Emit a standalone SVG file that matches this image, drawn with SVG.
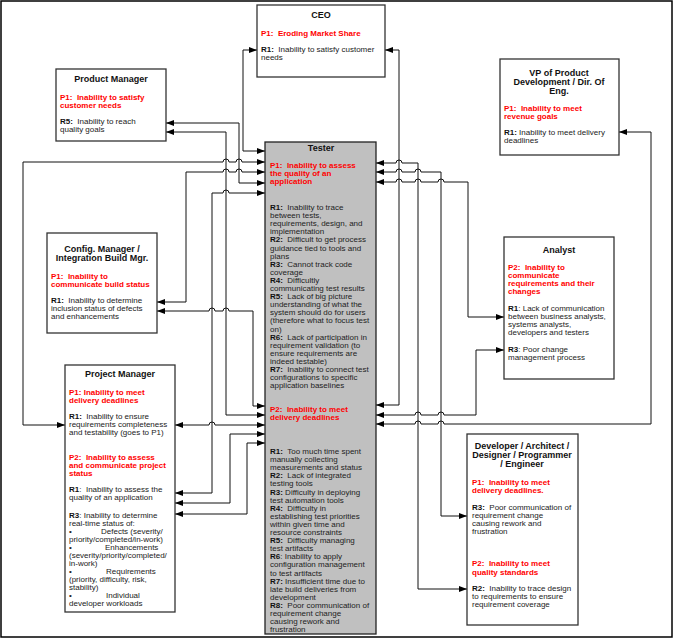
<svg xmlns="http://www.w3.org/2000/svg" width="674" height="640" viewBox="0 0 674 640">
<style>
.t{font-family:"Liberation Sans",Arial,sans-serif;font-size:8px;fill:#222;white-space:pre}
.b{font-weight:bold;fill:#111}
.r{font-weight:bold;fill:#ff0000}
.h{font-family:"Liberation Sans",Arial,sans-serif;font-size:9px;font-weight:bold;text-anchor:middle;fill:#111}
.box{fill:#fff;stroke:#333;stroke-width:1.3}
.tester{fill:#c0c0c0;stroke:#222;stroke-width:1.3}
.c{fill:none;stroke:#111;stroke-width:1;marker-start:url(#ah);marker-end:url(#ah)}
</style>
<defs>
<marker id="ah" viewBox="0 0 8 6" refX="8" refY="3" markerWidth="8" markerHeight="6" markerUnits="userSpaceOnUse" orient="auto-start-reverse">
<path d="M0,0 L8,3 L0,6 z" fill="#000"/>
</marker>
</defs>
<rect x="1" y="1" width="671" height="636" fill="#fff" stroke="#000" stroke-width="1.5"/>

<g id="connectors">
<path class="c" d="M265,151 H243 V50 H257"/>
<path class="c" d="M376,405 H399 V50 H385"/>
<path class="c" d="M166,123 H239 V183 H265"/>
<path class="c" d="M166,132 H226 V415 H265"/>
<path class="c" d="M65,425 H23 V162 H223 a3,3 0 0 1 6,0 H236 a3,3 0 0 1 6,0 H265"/>
<path class="c" d="M157,302 H186 V172 H223 a3,3 0 0 1 6,0 H236 a3,3 0 0 1 6,0 H265"/>
<path class="c" d="M157,311 H209 a3,3 0 0 1 6,0 H223 a3,3 0 0 1 6,0 H253 V406 H265"/>
<path class="c" d="M175,425 H209 a3,3 0 0 1 6,0 H265"/>
<path class="c" d="M175,493 H212 V193 H223 a3,3 0 0 1 6,0 H265"/>
<path class="c" d="M175,503 H230 V434 H265"/>
<path class="c" d="M175,514 H247 V443 H265"/>
<path class="c" d="M376,163 H396 a3,3 0 0 1 6,0 H418 V589 H467"/>
<path class="c" d="M376,172 H396 a3,3 0 0 1 6,0 H415 a3,3 0 0 1 6,0 H441 V516 H467"/>
<path class="c" d="M376,182 H396 a3,3 0 0 1 6,0 H415 a3,3 0 0 1 6,0 H438 a3,3 0 0 1 6,0 H468 V317 H504"/>
<path class="c" d="M376,415 H415 a3,3 0 0 1 6,0 H438 a3,3 0 0 1 6,0 H476 V350 H504"/>
<path class="c" d="M376,424 H415 a3,3 0 0 1 6,0 H438 a3,3 0 0 1 6,0 H651 V132 H619"/>
</g>

<g id="ceo">
<rect class="box" x="257" y="5" width="128" height="72"/>
<text class="h" x="321" y="18">CEO</text>
<text class="t r" x="261" y="36">P1:  Eroding Market Share</text>
<text class="t" x="261" y="52"><tspan class="b">R1:</tspan>  Inability to satisfy customer</text>
<text class="t" x="261" y="60">needs</text>
</g>

<g id="product-manager">
<rect class="box" x="56" y="69" width="110" height="72"/>
<text class="h" x="111" y="82">Product Manager</text>
<text class="t r" x="60" y="100">P1:  Inability to satisfy</text>
<text class="t r" x="60" y="108">customer needs</text>
<text class="t" x="60" y="124"><tspan class="b">R5:</tspan>  Inability to reach</text>
<text class="t" x="60" y="132">quality goals</text>
</g>

<g id="vp">
<rect class="box" x="500" y="59" width="119" height="96"/>
<text class="h" x="559" y="76">VP of Product</text>
<text class="h" x="559" y="85">Development / Dir. Of</text>
<text class="h" x="559" y="94">Eng.</text>
<text class="t r" x="504" y="111">P1:  Inability to meet</text>
<text class="t r" x="504" y="119">revenue goals</text>
<text class="t" x="504" y="135"><tspan class="b">R1:</tspan> Inability to meet delivery</text>
<text class="t" x="504" y="143">deadlines</text>
</g>

<g id="config-manager">
<rect class="box" x="47" y="233" width="110" height="100"/>
<text class="h" x="102" y="252">Config. Manager /</text>
<text class="h" x="102" y="261">Integration Build Mgr.</text>
<text class="t r" x="51" y="279">P1:  Inability to</text>
<text class="t r" x="51" y="287">communicate build status</text>
<text class="t" x="51" y="303"><tspan class="b">R1:</tspan>  Inability to determine</text>
<text class="t" x="51" y="311">inclusion status of defects</text>
<text class="t" x="51" y="319">and enhancements</text>
</g>

<g id="project-manager">
<rect class="box" x="65" y="365" width="110" height="247"/>
<text class="h" x="120" y="377">Project Manager</text>
<text class="t r" x="69" y="395">P1: Inability to meet</text>
<text class="t r" x="69" y="403">delivery deadlines</text>
<text class="t" x="69" y="419"><tspan class="b">R1:</tspan>  Inability to ensure</text>
<text class="t" x="69" y="427">requirements completeness</text>
<text class="t" x="69" y="435">and testability (goes to P1)</text>
<text class="t r" x="69" y="460">P2:  Inability to assess</text>
<text class="t r" x="69" y="468">and communicate project</text>
<text class="t r" x="69" y="476">status</text>
<text class="t" x="69" y="492"><tspan class="b">R1</tspan>:  Inability to assess the</text>
<text class="t" x="69" y="500">quality of an application</text>
<text class="t" x="69" y="518"><tspan class="b">R3</tspan>: Inability to determine</text>
<text class="t" x="69" y="526">real-time status of:</text>
<text class="t" x="69" y="534">•</text><text class="t" x="101" y="534">Defects (severity/</text>
<text class="t" x="69" y="542">priority/completed/in-work)</text>
<text class="t" x="69" y="550">•</text><text class="t" x="105" y="550">Enhancements</text>
<text class="t" x="69" y="558">(severity/priority/completed/</text>
<text class="t" x="69" y="566">in-work)</text>
<text class="t" x="69" y="574">•</text><text class="t" x="106" y="574">Requirements</text>
<text class="t" x="69" y="582">(priority, difficulty, risk,</text>
<text class="t" x="69" y="590">stability)</text>
<text class="t" x="69" y="598">•</text><text class="t" x="106" y="598">Individual</text>
<text class="t" x="69" y="606">developer workloads</text>
</g>

<g id="analyst">
<rect class="box" x="504" y="237" width="110" height="142"/>
<text class="h" x="559" y="253">Analyst</text>
<text class="t r" x="508" y="270">P2:  Inability to</text>
<text class="t r" x="508" y="278">communicate</text>
<text class="t r" x="508" y="286">requirements and their</text>
<text class="t r" x="508" y="294">changes</text>
<text class="t" x="508" y="311"><tspan class="b">R1</tspan>: Lack of communication</text>
<text class="t" x="508" y="319">between business analysts,</text>
<text class="t" x="508" y="327">systems analysts,</text>
<text class="t" x="508" y="335">developers and testers</text>
<text class="t" x="508" y="352"><tspan class="b">R3</tspan>: Poor change</text>
<text class="t" x="508" y="360">management process</text>
</g>

<g id="developer">
<rect class="box" x="467" y="434" width="111" height="191"/>
<text class="h" x="522" y="449">Developer / Architect /</text>
<text class="h" x="522" y="458">Designer / Programmer</text>
<text class="h" x="522" y="467">/ Engineer</text>
<text class="t r" x="472" y="485">P1:  Inability to meet</text>
<text class="t r" x="472" y="493">delivery deadlines.</text>
<text class="t" x="472" y="510"><tspan class="b">R3:</tspan>  Poor communication of</text>
<text class="t" x="472" y="518">requirement change</text>
<text class="t" x="472" y="526">causing rework and</text>
<text class="t" x="472" y="534">frustration</text>
<text class="t r" x="472" y="566">P2:  Inability to meet</text>
<text class="t r" x="472" y="575">quality standards</text>
<text class="t" x="472" y="591"><tspan class="b">R2:</tspan>  Inability to trace design</text>
<text class="t" x="472" y="599">to requirements to ensure</text>
<text class="t" x="472" y="607">requirement coverage</text>
</g>

<g id="tester">
<rect class="tester" x="265" y="142" width="111" height="492"/>
<text class="h" x="321" y="151">Tester</text>
<text class="t r" x="270" y="168">P1:  Inability to assess</text>
<text class="t r" x="270" y="176">the quality of an</text>
<text class="t r" x="270" y="184">application</text>
<text class="t" x="270" y="210"><tspan class="b">R1:</tspan>  Inability to trace</text>
<text class="t" x="270" y="218.1">between tests,</text>
<text class="t" x="270" y="226.2">requirements, design, and</text>
<text class="t" x="270" y="234.3">implementation</text>
<text class="t" x="270" y="242.4"><tspan class="b">R2:</tspan>  Difficult to get process</text>
<text class="t" x="270" y="250.5">guidance tied to tools and</text>
<text class="t" x="270" y="258.6">plans</text>
<text class="t" x="270" y="266.7"><tspan class="b">R3:</tspan>  Cannot track code</text>
<text class="t" x="270" y="274.8">coverage</text>
<text class="t" x="270" y="282.9"><tspan class="b">R4:</tspan>  Difficultly</text>
<text class="t" x="270" y="291">communicating test results</text>
<text class="t" x="270" y="299.1"><tspan class="b">R5:</tspan>  Lack of big picture</text>
<text class="t" x="270" y="307.2">understanding of what the</text>
<text class="t" x="270" y="315.3">system should do for users</text>
<text class="t" x="270" y="323.4">(therefore what to focus test</text>
<text class="t" x="270" y="331.5">on)</text>
<text class="t" x="270" y="339.6"><tspan class="b">R6:</tspan>  Lack of participation in</text>
<text class="t" x="270" y="347.7">requirement validation (to</text>
<text class="t" x="270" y="355.8">ensure requirements are</text>
<text class="t" x="270" y="363.9">indeed testable)</text>
<text class="t" x="270" y="372"><tspan class="b">R7:</tspan>  Inability to connect test</text>
<text class="t" x="270" y="380.1">configurations to specific</text>
<text class="t" x="270" y="388.2">application baselines</text>
<text class="t r" x="270" y="412">P2:  Inability to meet</text>
<text class="t r" x="270" y="420">delivery deadlines</text>
<text class="t" x="270" y="454"><tspan class="b">R1:</tspan>  Too much time spent</text>
<text class="t" x="270" y="462.1">manually collecting</text>
<text class="t" x="270" y="470.2">measurements and status</text>
<text class="t" x="270" y="478.3"><tspan class="b">R2:</tspan>  Lack of integrated</text>
<text class="t" x="270" y="486.4">testing tools</text>
<text class="t" x="270" y="494.5"><tspan class="b">R3:</tspan> Difficulty in deploying</text>
<text class="t" x="270" y="502.6">test automation tools</text>
<text class="t" x="270" y="510.7"><tspan class="b">R4:</tspan>  Difficulty in</text>
<text class="t" x="270" y="518.8">establishing test priorities</text>
<text class="t" x="270" y="526.9">within given time and</text>
<text class="t" x="270" y="535">resource constraints</text>
<text class="t" x="270" y="543.1"><tspan class="b">R5:</tspan>  Difficulty managing</text>
<text class="t" x="270" y="551.2">test artifacts</text>
<text class="t" x="270" y="559.3"><tspan class="b">R6</tspan>: Inability to apply</text>
<text class="t" x="270" y="567.4">configuration management</text>
<text class="t" x="270" y="575.5">to test artifacts</text>
<text class="t" x="270" y="583.6"><tspan class="b">R7:</tspan> Insufficient time due to</text>
<text class="t" x="270" y="591.7">late build deliveries from</text>
<text class="t" x="270" y="599.8">development</text>
<text class="t" x="270" y="607.9"><tspan class="b">R8:</tspan>  Poor communication of</text>
<text class="t" x="270" y="616">requirement change</text>
<text class="t" x="270" y="624.1">causing rework and</text>
<text class="t" x="270" y="632.2">frustration</text>
</g>
</svg>
